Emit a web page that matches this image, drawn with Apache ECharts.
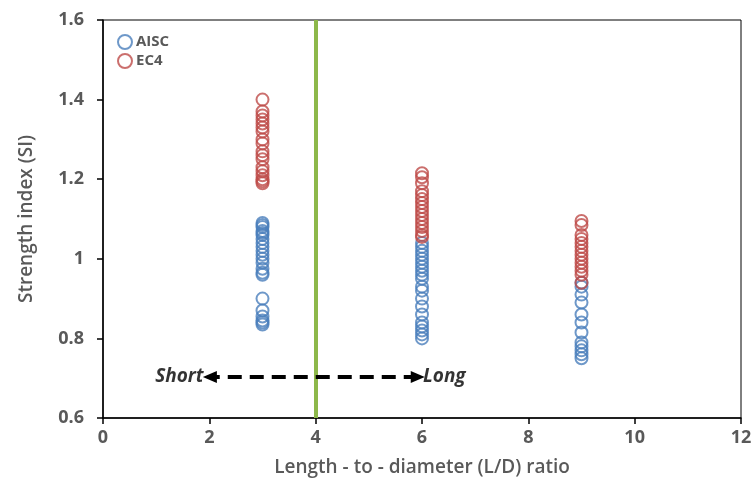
<!DOCTYPE html>
<html><head><meta charset="utf-8">
<script src="https://cdn.jsdelivr.net/npm/echarts@6/dist/echarts.min.js"></script>
<style>html,body{margin:0;padding:0;background:#fff}#c{width:756px;height:495px}</style>
</head><body><div id="c"></div>
<script>
var aisc3 = [1.09,1.085,1.08,1.07,1.065,1.06,1.05,1.04,1.03,1.02,1.01,1.0,0.99,0.975,0.965,0.96,0.90,0.87,0.855,0.845,0.84,0.835];
var ec43 = [1.40,1.37,1.36,1.35,1.34,1.33,1.32,1.30,1.29,1.27,1.26,1.25,1.23,1.22,1.21,1.20,1.195,1.19];
var aisc6 = [1.04,1.03,1.02,1.01,1.0,0.99,0.98,0.97,0.96,0.95,0.93,0.92,0.90,0.88,0.86,0.84,0.83,0.82,0.81,0.80];
var ec46 = [1.215,1.205,1.19,1.17,1.16,1.15,1.14,1.13,1.12,1.11,1.10,1.09,1.08,1.07,1.06,1.055];
var aisc9 = [0.94,0.93,0.91,0.89,0.86,0.84,0.815,0.79,0.78,0.77,0.76,0.75];
var ec49 = [1.095,1.085,1.06,1.05,1.04,1.03,1.02,1.01,1.0,0.99,0.98,0.97,0.96,0.94];
var ldValues = [3, 6, 9];
var seriesNames = ['AISC','EC4'];
var boundaryLD = 4;
var arrowY = 0.703, arrowFrom = 2.01, arrowTo = 5.92;
var shortLabel = 'Short', longLabel = 'Long';
var xTitle = 'Length - to - diameter (L/D) ratio';
var yTitle = 'Strength index (SI)';

function pts(x, arr){ return arr.map(function(v){ return [x, v]; }); }
var aiscData = pts(ldValues[0], aisc3).concat(pts(ldValues[1], aisc6), pts(ldValues[2], aisc9));
var ec4Data = pts(ldValues[0], ec43).concat(pts(ldValues[1], ec46), pts(ldValues[2], ec49));

var gray = '#595959';
var font = 'Open Sans';
var chart = echarts.init(document.getElementById('c'));
chart.setOption({
  animation: false,
  grid: {left: 103, right: 15, top: 20, bottom: 77, show: true, borderColor: '#000', borderWidth: 1},
  legend: {
    orient: 'vertical', left: 112, top: 29, itemGap: 3, itemWidth: 14, itemHeight: 14,
    textStyle: {color: gray, fontFamily: font, fontWeight: 'bold', fontSize: 15, padding: [0,0,0,-1]},
    data: seriesNames.map(function(n){ return {name: n, icon: 'circle'}; })
  },
  xAxis: {
    type: 'value', min: 0, max: 12, interval: 2,
    name: xTitle, nameLocation: 'middle', nameGap: 40,
    nameTextStyle: {color: gray, fontFamily: font, fontSize: 19, fontWeight: 600},
    axisLine: {lineStyle: {color: '#000', width: 1.5}},
    axisTick: {show: true, length: 6, lineStyle: {color: '#000', width: 1.5}},
    axisLabel: {color: gray, fontFamily: font, fontSize: 18, fontWeight: 'bold', margin: 11},
    splitLine: {show: false}
  },
  yAxis: {
    type: 'value', min: 0.6, max: 1.6, interval: 0.2,
    name: yTitle, nameLocation: 'middle', nameGap: 67,
    nameTextStyle: {color: gray, fontFamily: font, fontSize: 19, fontWeight: 600},
    axisLine: {show: true, lineStyle: {color: '#000', width: 1.5}},
    axisTick: {show: true, length: 6, lineStyle: {color: '#000', width: 1.5}},
    axisLabel: {color: gray, fontFamily: font, fontSize: 18, fontWeight: 'bold', margin: 19,
      formatter: function(v){ return Math.abs(v-1)<1e-9 ? '1' : v.toFixed(1); }},
    splitLine: {show: false}
  },
  series: [
    {
      name: seriesNames[0], type: 'scatter', data: aiscData, symbol: 'circle', symbolSize: 12,
      itemStyle: {color: 'rgba(0,0,0,0)', borderColor: '#4A7EBB', borderWidth: 2},
      markLine: {
        silent: true, symbol: ['none','none'], label: {show: false},
        lineStyle: {color: '#8DB84A', width: 4, type: 'solid'},
        data: [{xAxis: boundaryLD}]
      },
      z: 2
    },
    {
      name: seriesNames[1], type: 'scatter', data: ec4Data, symbol: 'circle', symbolSize: 12,
      itemStyle: {color: 'rgba(0,0,0,0)', borderColor: '#BE4B48', borderWidth: 2},
      z: 3
    },
    {
      name: 'annot', type: 'scatter', symbolSize: 0, silent: true, z: 5,
      data: [
        {value: [arrowFrom - 0.08, arrowY], label: {show: true, position: 'left', formatter: shortLabel}},
        {value: [arrowTo + 0.06, arrowY], label: {show: true, position: 'right', formatter: longLabel}}
      ],
      label: {color: '#000', fontFamily: font, fontSize: 19, fontWeight: 'bold', fontStyle: 'italic', distance: 2},
      markLine: {
        silent: true, symbol: ['triangle','triangle'], symbolSize: [12, 14], label: {show: false},
        lineStyle: {color: '#000', width: 4, type: [14, 8]},
        data: [[{coord: [arrowTo, arrowY]}, {coord: [arrowFrom, arrowY]}]]
      }
    }
  ]
});
</script></body></html>
